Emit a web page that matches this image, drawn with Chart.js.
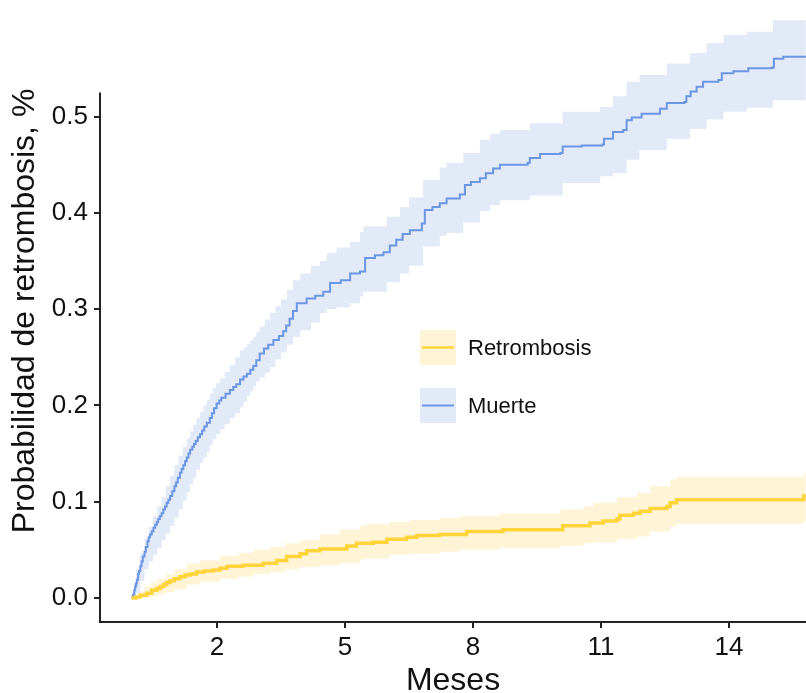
<!DOCTYPE html>
<html>
<head>
<meta charset="utf-8">
<script src="https://cdn.jsdelivr.net/npm/chart.js@4.4.1/dist/chart.umd.min.js"></script>
<style>
  html, body { margin: 0; padding: 0; background: #fff; }
</style>
</head>
<body>
<canvas id="kmChart" width="806" height="693"></canvas>
<script>
// Muerte: estimate (step curve)
const mesesMuerte = [0, 0.02, 0.04, 0.06, 0.08, 0.1, 0.12, 0.15, 0.17, 0.2, 0.23, 0.26, 0.3, 0.33, 0.37, 0.4, 0.43, 0.47, 0.51, 0.55,
  0.59, 0.62, 0.66, 0.7, 0.74, 0.78, 0.82, 0.86, 0.9, 0.95, 1.0, 1.04, 1.08, 1.13, 1.17, 1.21, 1.25, 1.29, 1.33, 1.37,
  1.42, 1.46, 1.5, 1.55, 1.6, 1.65, 1.7, 1.76, 1.83, 1.88, 1.93, 1.99, 2.05, 2.1, 2.2, 2.3, 2.38, 2.45, 2.54, 2.62,
  2.7, 2.78, 2.85, 2.92, 3.0, 3.1, 3.2, 3.32, 3.45, 3.55, 3.62, 3.7, 3.78, 3.87, 4.1, 4.3, 4.49, 4.65, 4.9, 5.12,
  5.35, 5.47, 5.7, 5.9, 6.05, 6.2, 6.35, 6.52, 6.8, 6.87, 7.05, 7.22, 7.38, 7.69, 7.81, 7.95, 8.16, 8.3, 8.47, 8.63,
  9.28, 9.33, 9.57, 10.05, 10.1, 10.55, 11.03, 11.07, 11.28, 11.52, 11.6, 11.72, 11.95, 12.38, 12.54, 12.95, 13.0, 13.1, 13.24, 13.39,
  13.75, 13.83, 14.1, 14.45, 15.0, 15.05, 15.27, 15.8];
const muerte = [0, 0.002, 0.004, 0.008, 0.012, 0.015, 0.019, 0.025, 0.028, 0.033, 0.038, 0.043, 0.048, 0.053, 0.059, 0.063, 0.066, 0.069, 0.073, 0.076,
  0.079, 0.082, 0.085, 0.088, 0.092, 0.095, 0.099, 0.102, 0.106, 0.111, 0.116, 0.12, 0.125, 0.13, 0.134, 0.138, 0.142, 0.146, 0.15, 0.154,
  0.157, 0.16, 0.163, 0.167, 0.17, 0.174, 0.178, 0.182, 0.187, 0.192, 0.197, 0.202, 0.205, 0.208, 0.212, 0.216, 0.219, 0.222, 0.227, 0.23,
  0.233, 0.237, 0.241, 0.247, 0.254, 0.259, 0.263, 0.268, 0.272, 0.277, 0.283, 0.29, 0.298, 0.306, 0.311, 0.314, 0.318, 0.327, 0.33, 0.337,
  0.339, 0.353, 0.356, 0.359, 0.366, 0.372, 0.378, 0.382, 0.389, 0.403, 0.406, 0.41, 0.415, 0.419, 0.429, 0.432, 0.436, 0.441, 0.446, 0.45,
  0.452, 0.457, 0.461, 0.462, 0.469, 0.47, 0.471, 0.477, 0.484, 0.486, 0.496, 0.499, 0.503, 0.508, 0.514, 0.515, 0.521, 0.526, 0.531, 0.536,
  0.538, 0.545, 0.547, 0.55, 0.551, 0.56, 0.562, 0.562];

// Muerte: confidence band
const mesesBandaMuerte = [0, 0.05, 0.1, 0.2, 0.3, 0.4, 0.5, 0.6, 0.7, 0.8, 0.9, 1.0, 1.1, 1.2, 1.29, 1.37, 1.44, 1.52, 1.6, 1.68,
  1.76, 1.83, 1.9, 1.98, 2.07, 2.18, 2.3, 2.42, 2.54, 2.62, 2.7, 2.78, 2.85, 2.92, 3.0, 3.12, 3.24, 3.37, 3.5, 3.64,
  3.78, 3.95, 4.2, 4.41, 4.57, 4.8, 5.12, 5.35, 5.43, 5.98, 6.29, 6.5, 6.83, 7.22, 7.38, 7.77, 8.16, 8.4, 8.63, 9.33,
  10.1, 10.98, 11.28, 11.6, 11.9, 12.54, 13.08, 13.47, 13.87, 14.41, 15.03, 15.8];
const muerteSup = [0, 0.015, 0.03, 0.047, 0.062, 0.074, 0.085, 0.095, 0.105, 0.116, 0.127, 0.138, 0.148, 0.157, 0.166, 0.173, 0.18, 0.187, 0.193, 0.2,
  0.206, 0.212, 0.218, 0.223, 0.228, 0.235, 0.242, 0.25, 0.257, 0.26, 0.264, 0.268, 0.271, 0.276, 0.282, 0.289, 0.296, 0.303, 0.31, 0.32,
  0.33, 0.337, 0.345, 0.35, 0.358, 0.364, 0.37, 0.38, 0.386, 0.396, 0.406, 0.416, 0.434, 0.447, 0.452, 0.462, 0.476, 0.482, 0.486, 0.493,
  0.505, 0.51, 0.521, 0.536, 0.543, 0.555, 0.566, 0.576, 0.585, 0.588, 0.6, 0.6];
const muerteInf = [0, 0, 0.005, 0.018, 0.03, 0.038, 0.045, 0.052, 0.06, 0.067, 0.075, 0.083, 0.092, 0.101, 0.11, 0.118, 0.125, 0.133, 0.14, 0.146,
  0.152, 0.159, 0.165, 0.17, 0.175, 0.181, 0.187, 0.192, 0.198, 0.204, 0.21, 0.215, 0.22, 0.225, 0.229, 0.234, 0.24, 0.248, 0.255, 0.263,
  0.271, 0.278, 0.286, 0.296, 0.3, 0.302, 0.306, 0.313, 0.318, 0.328, 0.337, 0.345, 0.365, 0.376, 0.379, 0.39, 0.402, 0.408, 0.413, 0.418,
  0.431, 0.438, 0.441, 0.455, 0.465, 0.477, 0.487, 0.497, 0.505, 0.509, 0.517, 0.521];

// Retrombosis: estimate
const mesesRetro = [0, 0.1, 0.2, 0.35, 0.47, 0.59, 0.67, 0.75, 0.82, 0.9, 1.0, 1.13, 1.25, 1.37, 1.52, 1.7, 1.91, 2.07, 2.23, 2.61,
  3.08, 3.4, 3.63, 3.95, 4.1, 4.41, 5.04, 5.27, 5.66, 5.98, 6.44, 6.68, 7.22, 7.85, 8.7, 10.1, 10.74, 11.05, 11.37, 11.44,
  11.76, 11.92, 12.15, 12.54, 12.62, 12.77, 15.75, 15.8];
const retro = [0, 0.001, 0.003, 0.005, 0.008, 0.01, 0.012, 0.014, 0.016, 0.018, 0.02, 0.022, 0.024, 0.025, 0.027, 0.028, 0.029, 0.031, 0.033, 0.034,
  0.036, 0.039, 0.043, 0.046, 0.049, 0.051, 0.054, 0.057, 0.058, 0.061, 0.063, 0.065, 0.066, 0.069, 0.071, 0.075, 0.078, 0.08, 0.082, 0.086,
  0.088, 0.09, 0.093, 0.095, 0.099, 0.102, 0.106, 0.106];

// Retrombosis: confidence band
const mesesBandaRetro = [0, 0.15, 0.3, 0.45, 0.6, 0.8, 1.0, 1.29, 1.6, 2.07, 2.5, 2.85, 3.24, 3.6, 3.94, 4.4, 4.88, 5.35, 5.5, 6.05,
  6.52, 7.22, 7.69, 8.63, 10.04, 10.59, 10.82, 11.37, 11.84, 12.15, 12.62, 12.77, 15.75, 15.8];
const retroSup = [0, 0.007, 0.012, 0.016, 0.02, 0.025, 0.03, 0.036, 0.039, 0.044, 0.047, 0.05, 0.053, 0.057, 0.06, 0.066, 0.071, 0.075, 0.077, 0.079,
  0.081, 0.083, 0.085, 0.088, 0.092, 0.095, 0.099, 0.105, 0.109, 0.116, 0.123, 0.126, 0.13, 0.13];
const retroInf = [0, 0, 0, 0.002, 0.004, 0.006, 0.009, 0.014, 0.017, 0.02, 0.022, 0.025, 0.027, 0.03, 0.032, 0.034, 0.036, 0.04, 0.041, 0.045,
  0.046, 0.048, 0.05, 0.052, 0.054, 0.057, 0.058, 0.061, 0.064, 0.069, 0.074, 0.077, 0.08, 0.08];

const xTicks = [2, 5, 8, 11, 14];
const yTicks = [0, 0.1, 0.2, 0.3, 0.4, 0.5];

const FONT = '"Liberation Sans", Arial, sans-serif';
const INK = '#111';
const AXIS = '#222';

const AZUL = '#6b96e3', AZUL_BANDA = '#e2e9f7';
const ORO = '#ffd43a', ORO_BANDA = '#fff5d6';

function pts(xs, ys) {
  return xs.map((x, i) => ({ x: x, y: ys[i] }));
}

function banda(xs, ys, color, fill) {
  return {
    data: pts(xs, ys), stepped: true, borderWidth: 0, pointRadius: 0,
    backgroundColor: color, fill: fill, order: 2
  };
}

// y axis line only spans part of the panel, like the original
const ejeY = {
  id: 'ejeY',
  afterDatasetsDraw(chart) {
    const y = chart.scales.y, ctx = chart.ctx;
    ctx.save();
    ctx.strokeStyle = AXIS;
    ctx.lineWidth = 2;
    ctx.beginPath();
    ctx.moveTo(chart.chartArea.left, chart.chartArea.bottom);
    ctx.lineTo(chart.chartArea.left, y.getPixelForValue(0.525));
    ctx.stroke();
    ctx.restore();
  }
};

// legend inside the panel
const leyenda = {
  id: 'leyenda',
  afterDraw(chart) {
    const ctx = chart.ctx;
    const items = [
      { label: 'Retrombosis', line: ORO, fill: ORO_BANDA, w: 2.5 },
      { label: 'Muerte', line: AZUL, fill: AZUL_BANDA, w: 2 }
    ];
    const x0 = 420, y0 = 330, gap = 58;
    ctx.save();
    items.forEach((it, i) => {
      const y = y0 + i * gap;
      ctx.fillStyle = it.fill;
      ctx.fillRect(x0, y, 36, 35);
      ctx.strokeStyle = it.line;
      ctx.lineWidth = it.w;
      ctx.beginPath();
      ctx.moveTo(x0 + 2, y + 17.5);
      ctx.lineTo(x0 + 34, y + 17.5);
      ctx.stroke();
      ctx.fillStyle = INK;
      ctx.font = '22px ' + FONT;
      ctx.textBaseline = 'middle';
      ctx.fillText(it.label, x0 + 48, y + 19);
    });
    ctx.restore();
  }
};

new Chart(document.getElementById('kmChart').getContext('2d'), {
  type: 'line',
  data: {
    datasets: [
      banda(mesesBandaMuerte, muerteSup, AZUL_BANDA, '+1'),
      banda(mesesBandaMuerte, muerteInf, AZUL_BANDA, false),
      banda(mesesBandaRetro, retroSup, ORO_BANDA, '+1'),
      banda(mesesBandaRetro, retroInf, ORO_BANDA, false),
      {
        label: 'Muerte', data: pts(mesesMuerte, muerte), stepped: true,
        borderColor: AZUL, borderWidth: 2, pointRadius: 0, fill: false, order: 1
      },
      {
        label: 'Retrombosis', data: pts(mesesRetro, retro), stepped: true,
        borderColor: ORO, borderWidth: 3.5, pointRadius: 0, fill: false, order: 0
      }
    ]
  },
  options: {
    responsive: false,
    animation: false,
    devicePixelRatio: 1,
    layout: { padding: 0 },
    plugins: {
      legend: { display: false },
      tooltip: { enabled: false },
      filler: { drawTime: 'beforeDatasetsDraw' }
    },
    scales: {
      x: {
        type: 'linear',
        min: -0.743,
        max: 15.803,
        afterBuildTicks: (s) => { s.ticks = xTicks.map(v => ({ value: v })); },
        afterFit: (s) => { s.height = 71; s.paddingLeft = 0; s.paddingRight = 0; },
        ticks: {
          color: INK, padding: 4, font: { family: FONT, size: 26 },
          callback: (v) => String(v)
        },
        grid: { drawOnChartArea: false, drawTicks: true, tickLength: 6, color: AXIS, lineWidth: 2 },
        border: { display: true, color: AXIS, width: 2 },
        title: {
          display: true, text: 'Meses', color: INK,
          font: { family: FONT, size: 32, lineHeight: 1 },
          padding: { top: 0, bottom: -4.5 }
        }
      },
      y: {
        type: 'linear',
        min: -0.0249,
        max: 0.621,
        afterBuildTicks: (s) => { s.ticks = yTicks.map(v => ({ value: v })); },
        afterFit: (s) => { s.width = 100; s.paddingTop = 0; s.paddingBottom = 0; },
        ticks: {
          color: INK, padding: 6, font: { family: FONT, size: 26 },
          callback: (v) => v.toFixed(1)
        },
        grid: { drawOnChartArea: false, drawTicks: true, tickLength: 6, color: AXIS, lineWidth: 2 },
        border: { display: false },
        title: {
          display: true, text: 'Probabilidad de retrombosis, %', color: INK,
          font: { family: FONT, size: 32 },
          padding: { top: 6, bottom: 0 }
        }
      }
    }
  },
  plugins: [ejeY, leyenda]
});
</script>
</body>
</html>
